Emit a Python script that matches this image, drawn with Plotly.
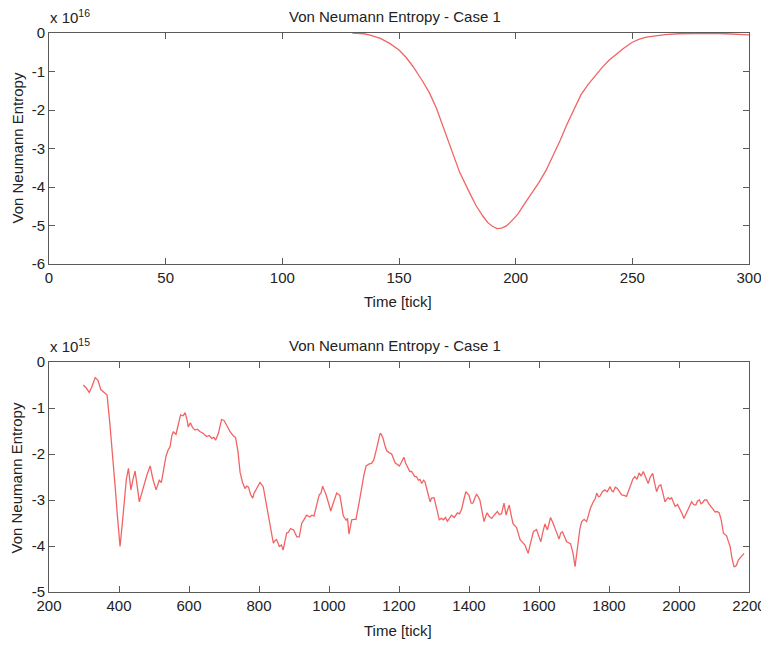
import plotly.graph_objects as go

# ---- data (values in units of the axis multiplier) ----
# Top panel: values x 1e16
t1 = [130, 135, 138, 142, 146, 150, 153, 156, 160, 163, 166, 169, 172, 176, 180, 183, 186, 188, 190, 192, 194, 196, 198, 201, 204, 207, 210, 213, 216, 219, 222, 225, 228, 231, 234, 237, 240, 243, 246, 250, 253, 256, 260, 264, 270, 277, 284, 290, 295, 300]
v1 = [0.0, -0.02, -0.06, -0.14, -0.27, -0.44, -0.63, -0.87, -1.24, -1.55, -1.95, -2.45, -2.98, -3.62, -4.12, -4.48, -4.76, -4.92, -5.02, -5.08, -5.07, -5.01, -4.90, -4.70, -4.42, -4.16, -3.88, -3.57, -3.20, -2.80, -2.37, -1.97, -1.60, -1.34, -1.11, -0.90, -0.71, -0.55, -0.41, -0.24, -0.16, -0.11, -0.07, -0.04, -0.02, -0.01, -0.01, -0.02, -0.04, -0.05]

# Bottom panel: values x 1e15
t2 = [298, 306, 315, 322, 332, 340, 348, 358, 366, 374, 382, 389, 396, 403, 409, 415, 421, 427, 431, 434, 440, 446, 452, 458, 465, 471, 480, 489, 497, 506, 511, 515, 521, 528, 534, 540, 546, 551, 555, 563, 570, 576, 583, 589, 594, 598, 604, 610, 617, 624, 631, 640, 650, 658, 665, 671, 676, 684, 693, 700, 708, 717, 727, 733, 740, 746, 753, 760, 765, 770, 776, 782, 786, 791, 797, 803, 812, 820, 827, 834, 841, 846, 850, 855, 858, 864, 869, 874, 879, 884, 890, 899, 908, 915, 922, 929, 936, 945, 951, 957, 965, 972, 977, 982, 986, 991, 998, 1005, 1013, 1022, 1031, 1036, 1041, 1049, 1053, 1057, 1061, 1065, 1071, 1077, 1085, 1093, 1100, 1106, 1114, 1122, 1128, 1137, 1146, 1150, 1154, 1160, 1165, 1172, 1179, 1189, 1195, 1201, 1207, 1214, 1219, 1224, 1231, 1236, 1245, 1250, 1255, 1260, 1265, 1270, 1274, 1279, 1284, 1289, 1293, 1300, 1308, 1315, 1321, 1327, 1333, 1338, 1344, 1350, 1358, 1367, 1373, 1379, 1385, 1391, 1396, 1400, 1406, 1411, 1417, 1422, 1431, 1437, 1443, 1448, 1452, 1458, 1465, 1473, 1481, 1487, 1493, 1500, 1506, 1511, 1515, 1521, 1526, 1536, 1546, 1553, 1560, 1565, 1569, 1577, 1584, 1593, 1599, 1605, 1611, 1617, 1624, 1629, 1633, 1640, 1646, 1651, 1657, 1662, 1667, 1673, 1679, 1690, 1697, 1703, 1708, 1712, 1717, 1722, 1729, 1736, 1742, 1747, 1755, 1760, 1765, 1770, 1774, 1781, 1788, 1795, 1803, 1808, 1812, 1818, 1824, 1830, 1836, 1843, 1850, 1856, 1862, 1868, 1874, 1880, 1886, 1892, 1898, 1905, 1912, 1918, 1925, 1930, 1936, 1942, 1948, 1954, 1960, 1965, 1969, 1974, 1979, 1984, 1989, 1996, 2003, 2009, 2014, 2020, 2027, 2031, 2036, 2042, 2048, 2053, 2058, 2063, 2067, 2073, 2079, 2085, 2090, 2097, 2103, 2109, 2115, 2121, 2127, 2132, 2136, 2141, 2146, 2151, 2157, 2160, 2164, 2170, 2176, 2181, 2186]
v2 = [-0.50, -0.56, -0.66, -0.55, -0.34, -0.40, -0.60, -0.66, -0.72, -1.35, -2.00, -2.71, -3.40, -4.01, -3.55, -3.00, -2.55, -2.31, -2.55, -2.78, -2.55, -2.37, -2.70, -3.04, -2.85, -2.67, -2.45, -2.26, -2.55, -2.78, -2.65, -2.57, -2.62, -2.35, -2.06, -1.92, -1.84, -1.60, -1.52, -1.57, -1.35, -1.15, -1.17, -1.10, -1.25, -1.41, -1.32, -1.42, -1.48, -1.46, -1.51, -1.55, -1.62, -1.60, -1.66, -1.64, -1.70, -1.55, -1.25, -1.27, -1.38, -1.51, -1.61, -1.64, -1.95, -2.40, -2.62, -2.75, -2.70, -2.72, -2.88, -2.96, -2.85, -2.78, -2.72, -2.62, -2.71, -3.05, -3.43, -3.70, -3.94, -3.88, -3.86, -3.95, -4.01, -3.98, -4.09, -3.90, -3.72, -3.70, -3.62, -3.65, -3.80, -3.80, -3.51, -3.42, -3.33, -3.37, -3.33, -3.35, -3.10, -2.89, -2.85, -2.70, -2.78, -2.87, -3.05, -3.24, -3.05, -2.85, -2.90, -3.15, -3.35, -3.44, -3.40, -3.74, -3.55, -3.43, -3.42, -3.42, -3.10, -2.71, -2.45, -2.26, -2.22, -2.20, -2.13, -1.85, -1.55, -1.58, -1.65, -1.82, -1.93, -1.97, -2.00, -2.19, -2.22, -2.26, -2.18, -2.07, -2.20, -2.28, -2.38, -2.38, -2.49, -2.49, -2.57, -2.55, -2.64, -2.57, -2.60, -2.75, -2.89, -3.04, -2.96, -2.95, -3.20, -3.43, -3.40, -3.43, -3.38, -3.46, -3.40, -3.33, -3.38, -3.28, -3.30, -3.20, -3.00, -2.82, -2.86, -2.90, -3.07, -3.07, -2.95, -2.87, -3.00, -3.25, -3.47, -3.35, -3.28, -3.36, -3.40, -3.32, -3.25, -3.32, -3.30, -3.07, -3.33, -3.20, -3.11, -3.35, -3.52, -3.60, -3.86, -3.92, -3.98, -4.08, -4.16, -3.90, -3.69, -3.64, -3.78, -3.91, -3.70, -3.52, -3.65, -3.50, -3.38, -3.50, -3.60, -3.72, -3.85, -3.72, -3.69, -3.82, -3.91, -3.95, -4.15, -4.45, -4.10, -3.87, -3.62, -3.47, -3.42, -3.47, -3.30, -3.18, -3.04, -2.98, -2.85, -2.93, -2.92, -2.82, -2.78, -2.82, -2.71, -2.80, -2.82, -2.72, -2.75, -2.82, -2.89, -2.90, -2.92, -2.80, -2.67, -2.55, -2.49, -2.55, -2.41, -2.48, -2.38, -2.50, -2.64, -2.50, -2.42, -2.62, -2.82, -2.70, -2.67, -2.85, -3.04, -2.98, -2.95, -2.98, -2.95, -3.05, -3.14, -3.10, -3.20, -3.30, -3.40, -3.30, -3.20, -3.10, -3.04, -3.10, -3.11, -3.02, -3.00, -3.08, -3.06, -3.00, -3.00, -3.08, -3.14, -3.20, -3.26, -3.25, -3.28, -3.45, -3.72, -3.75, -3.78, -3.90, -4.01, -4.25, -4.45, -4.45, -4.42, -4.30, -4.25, -4.20, -4.16]

x1_ticks = [0, 50, 100, 150, 200, 250, 300]
y1_ticks = [0, -1, -2, -3, -4, -5, -6]
x2_ticks = [200, 400, 600, 800, 1000, 1200, 1400, 1600, 1800, 2000, 2200]
y2_ticks = [0, -1, -2, -3, -4, -5]

title_text = "Von Neumann Entropy - Case 1"
xlabel = "Time [tick]"
ylabel = "Von Neumann Entropy"

# the page body has an 8px margin, so the figure is drawn 8px in from the top-left
OFF = 8
W, H = 769 - OFF, 645 - OFF
FONT = "Liberation Sans, Arial, sans-serif"
LINE = "#f26464"
AXC = "#5a5a5a"

fig = go.Figure()
fig.add_trace(go.Scatter(x=t1, y=v1, mode="lines", line=dict(color=LINE, width=1.3),
                         xaxis="x", yaxis="y", showlegend=False))
fig.add_trace(go.Scatter(x=t2, y=v2, mode="lines", line=dict(color=LINE, width=1.3),
                         xaxis="x2", yaxis="y2", showlegend=False))

def px(x):
    return (x - OFF) / W

def py(y):
    return 1 - (y - OFF) / H

axis_common = dict(showline=True, linecolor=AXC, linewidth=1, mirror="ticks",
                   ticks="inside", ticklen=6, tickcolor=AXC, tickwidth=1,
                   showgrid=False, zeroline=False, automargin=False,
                   tickfont=dict(family=FONT, size=15, color="#222"))

def labels(vals):
    return [str(v) for v in vals]

xdom = [px(49), px(749)]
fig.update_layout(
    width=W, height=H,
    margin=dict(l=0, r=0, t=0, b=0),
    paper_bgcolor="white", plot_bgcolor="white",
    xaxis=dict(domain=xdom, range=[0, 300], tickvals=x1_ticks, ticktext=labels(x1_ticks),
               anchor="y", **axis_common),
    yaxis=dict(domain=[py(264), py(33)], range=[-6, 0], tickvals=y1_ticks, ticktext=labels(y1_ticks),
               anchor="x", **axis_common),
    xaxis2=dict(domain=xdom, range=[200, 2200], tickvals=x2_ticks, ticktext=labels(x2_ticks),
                anchor="y2", **axis_common),
    yaxis2=dict(domain=[py(592), py(362)], range=[-5, 0], tickvals=y2_ticks, ticktext=labels(y2_ticks),
                anchor="x2", **axis_common),
)

ann_font = dict(family=FONT, size=15, color="#222")
anns = [
    dict(text=title_text, x=px(395), y=py(17)),
    dict(text=title_text, x=px(395), y=py(345)),
    dict(text=xlabel, x=px(398), y=py(301)),
    dict(text=xlabel, x=px(398), y=py(630)),
    dict(text=ylabel, x=px(16.5), y=py(148), textangle=-90),
    dict(text=ylabel, x=px(16.5), y=py(478), textangle=-90),
]
for a in anns:
    fig.add_annotation(xref="paper", yref="paper", showarrow=False,
                       xanchor="center", yanchor="middle", font=ann_font, **a)

for yy, e in [(17, "16"), (345, "15")]:
    fig.add_annotation(xref="paper", yref="paper", showarrow=False, x=px(48), y=py(yy),
                       xanchor="left", yanchor="middle",
                       text="x 10<sup>" + e + "</sup>", font=ann_font)

fig.write_html("out.html")
